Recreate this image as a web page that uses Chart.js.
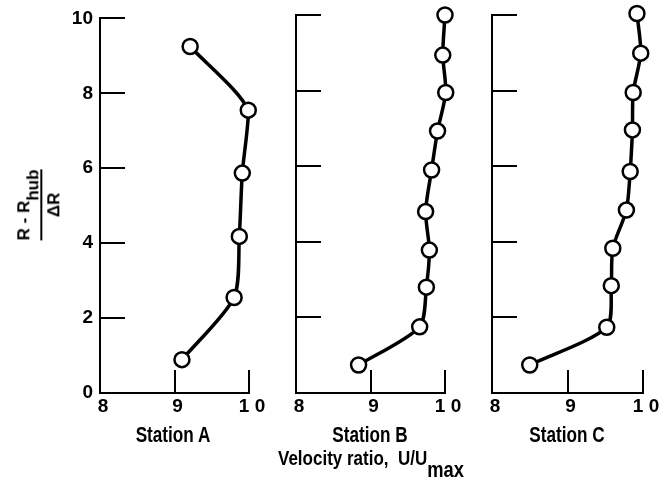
<!DOCTYPE html>
<html><head><meta charset="utf-8">
<script src="https://cdn.jsdelivr.net/npm/chart.js@4.4.0/dist/chart.umd.min.js"></script>
<style>
html,body{margin:0;padding:0;background:#fff;}
#wrap{position:relative;width:661px;height:485px;overflow:hidden;background:#fff;}
canvas{position:absolute;left:0;top:0;}
.lbl{position:absolute;font-family:'Liberation Sans',Arial,sans-serif;font-weight:bold;color:#000;white-space:nowrap;transform:translate(-50%,-50%) scaleX(0.78);line-height:1;}
.lbl sub{font-size:1.08em;vertical-align:-0.55em;line-height:0;}
#ytitle{position:absolute;left:39px;top:205px;transform:translate(-50%,-50%) rotate(-90deg);font-family:'Liberation Sans',Arial,sans-serif;font-weight:bold;font-size:17px;color:#000;text-align:center;line-height:1;white-space:nowrap;}
#ytitle .num{border-bottom:2px solid #000;padding:0 0 7px 0;}
#ytitle .den{padding-top:3px;}
#ytitle sub{font-size:1em;vertical-align:-0.55em;line-height:0;}
</style></head>
<body><div id="wrap">
<canvas id="cA" width="661" height="485"></canvas>
<canvas id="cB" width="661" height="485"></canvas>
<canvas id="cC" width="661" height="485"></canvas>
<div id="ytitle"><div class="num">R&nbsp;-&nbsp;R<sub>hub</sub></div><div class="den">ΔR</div></div>
<div class="lbl" style="left:173px;top:435px;font-size:22px">Station A</div>
<div class="lbl" style="left:370px;top:435px;font-size:22px">Station B</div>
<div class="lbl" style="left:567px;top:435px;font-size:22px">Station C</div>
<div class="lbl" style="left:371px;top:459px;font-size:20px;transform:translate(-50%,-50%) scaleX(0.85)">Velocity ratio,&nbsp; U/U<sub>max</sub></div>
</div>
<script>
// ---- data ----
const xTickLabels = ['8', '9', '1 0'];
const yTickValues = [0, 2, 4, 6, 8, 10];
const yInnerTicks = [2, 4, 6, 8, 10];
const xInnerTicks = [0.9, 1.0];

const stationA_x = [0.921, 0.999, 0.991, 0.987, 0.980, 0.910];
const stationA_y = [9.25, 7.55, 5.87, 4.18, 2.55, 0.89];

const stationB_x = [1.000, 0.997, 1.001, 0.990, 0.982, 0.974, 0.979, 0.975, 0.966, 0.884];
const stationB_y = [10.0, 8.94, 7.95, 6.93, 5.90, 4.80, 3.78, 2.80, 1.75, 0.74];

const stationC_x = [0.992, 0.997, 0.987, 0.986, 0.983, 0.978, 0.960, 0.958, 0.952, 0.850];
const stationC_y = [10.04, 8.99, 7.95, 6.96, 5.86, 4.84, 3.83, 2.84, 1.74, 0.74];

// ---- layout / style ----
const W = 661, H = 485;
const AX_W = 40, AX_H = 40, TOP = 15, BOTTOM = 393, TICK = 23;
const FONT = "'Liberation Sans', Arial, sans-serif";

const innerTicks = {
  id: 'innerTicks',
  beforeDatasetsDraw(chart) {
    const {ctx, chartArea: {left, bottom}, scales: {x, y}} = chart;
    ctx.save();
    ctx.strokeStyle = '#000';
    ctx.lineWidth = 2;
    ctx.beginPath();
    yInnerTicks.forEach(v => {
      const py = Math.round(y.getPixelForValue(v));
      ctx.moveTo(left, py); ctx.lineTo(left + TICK + 2, py);
    });
    xInnerTicks.forEach(v => {
      const px = Math.round(x.getPixelForValue(v));
      ctx.moveTo(px, bottom); ctx.lineTo(px, bottom - TICK);
    });
    ctx.stroke();
    ctx.restore();
  }
};

function makeChart(id, xs, ys, left, right, showY) {
  const pts = xs.map((v, i) => ({x: v, y: ys[i]}));
  return new Chart(document.getElementById(id), {
    type: 'scatter',
    data: {datasets: [{
      data: pts,
      showLine: true,
      borderColor: '#000',
      borderWidth: 3.5,
      tension: 0.25,
      pointRadius: 7.5,
      pointBorderWidth: 2.5,
      pointBackgroundColor: '#fff',
      pointBorderColor: '#000',
      clip: false
    }]},
    options: {
      responsive: false,
      animation: false,
      events: [],
      layout: {padding: {left: left - AX_W, right: W - right, top: TOP, bottom: H - BOTTOM - AX_H}},
      plugins: {legend: {display: false}, tooltip: {enabled: false}},
      scales: {
        x: {
          type: 'linear', min: 0.8, max: 1.0,
          grid: {display: false, drawTicks: false},
          border: {display: true, color: '#000', width: 2},
          ticks: {
            stepSize: 0.1, maxRotation: 0, autoSkip: false, padding: 2, labelOffset: 3,
            color: '#000', font: {family: FONT, size: 19, weight: 'bold'},
            callback: (v, i) => xTickLabels[i]
          },
          afterFit: s => { s.height = AX_H; }
        },
        y: {
          type: 'linear', min: 0, max: 10,
          grid: {display: false, drawTicks: false},
          border: {display: true, color: '#000', width: 2},
          afterBuildTicks: s => { s.ticks = yTickValues.map(v => ({value: v})); },
          ticks: {
            display: showY, padding: 7,
            color: '#000', font: {family: FONT, size: 19, weight: 'bold'}
          },
          afterFit: s => { s.width = AX_W; }
        }
      }
    },
    plugins: [innerTicks]
  });
}

makeChart('cA', stationA_x, stationA_y, 100, 249, true);
makeChart('cB', stationB_x, stationB_y, 296, 445, false);
makeChart('cC', stationC_x, stationC_y, 492, 643, false);
</script>
</body></html>
